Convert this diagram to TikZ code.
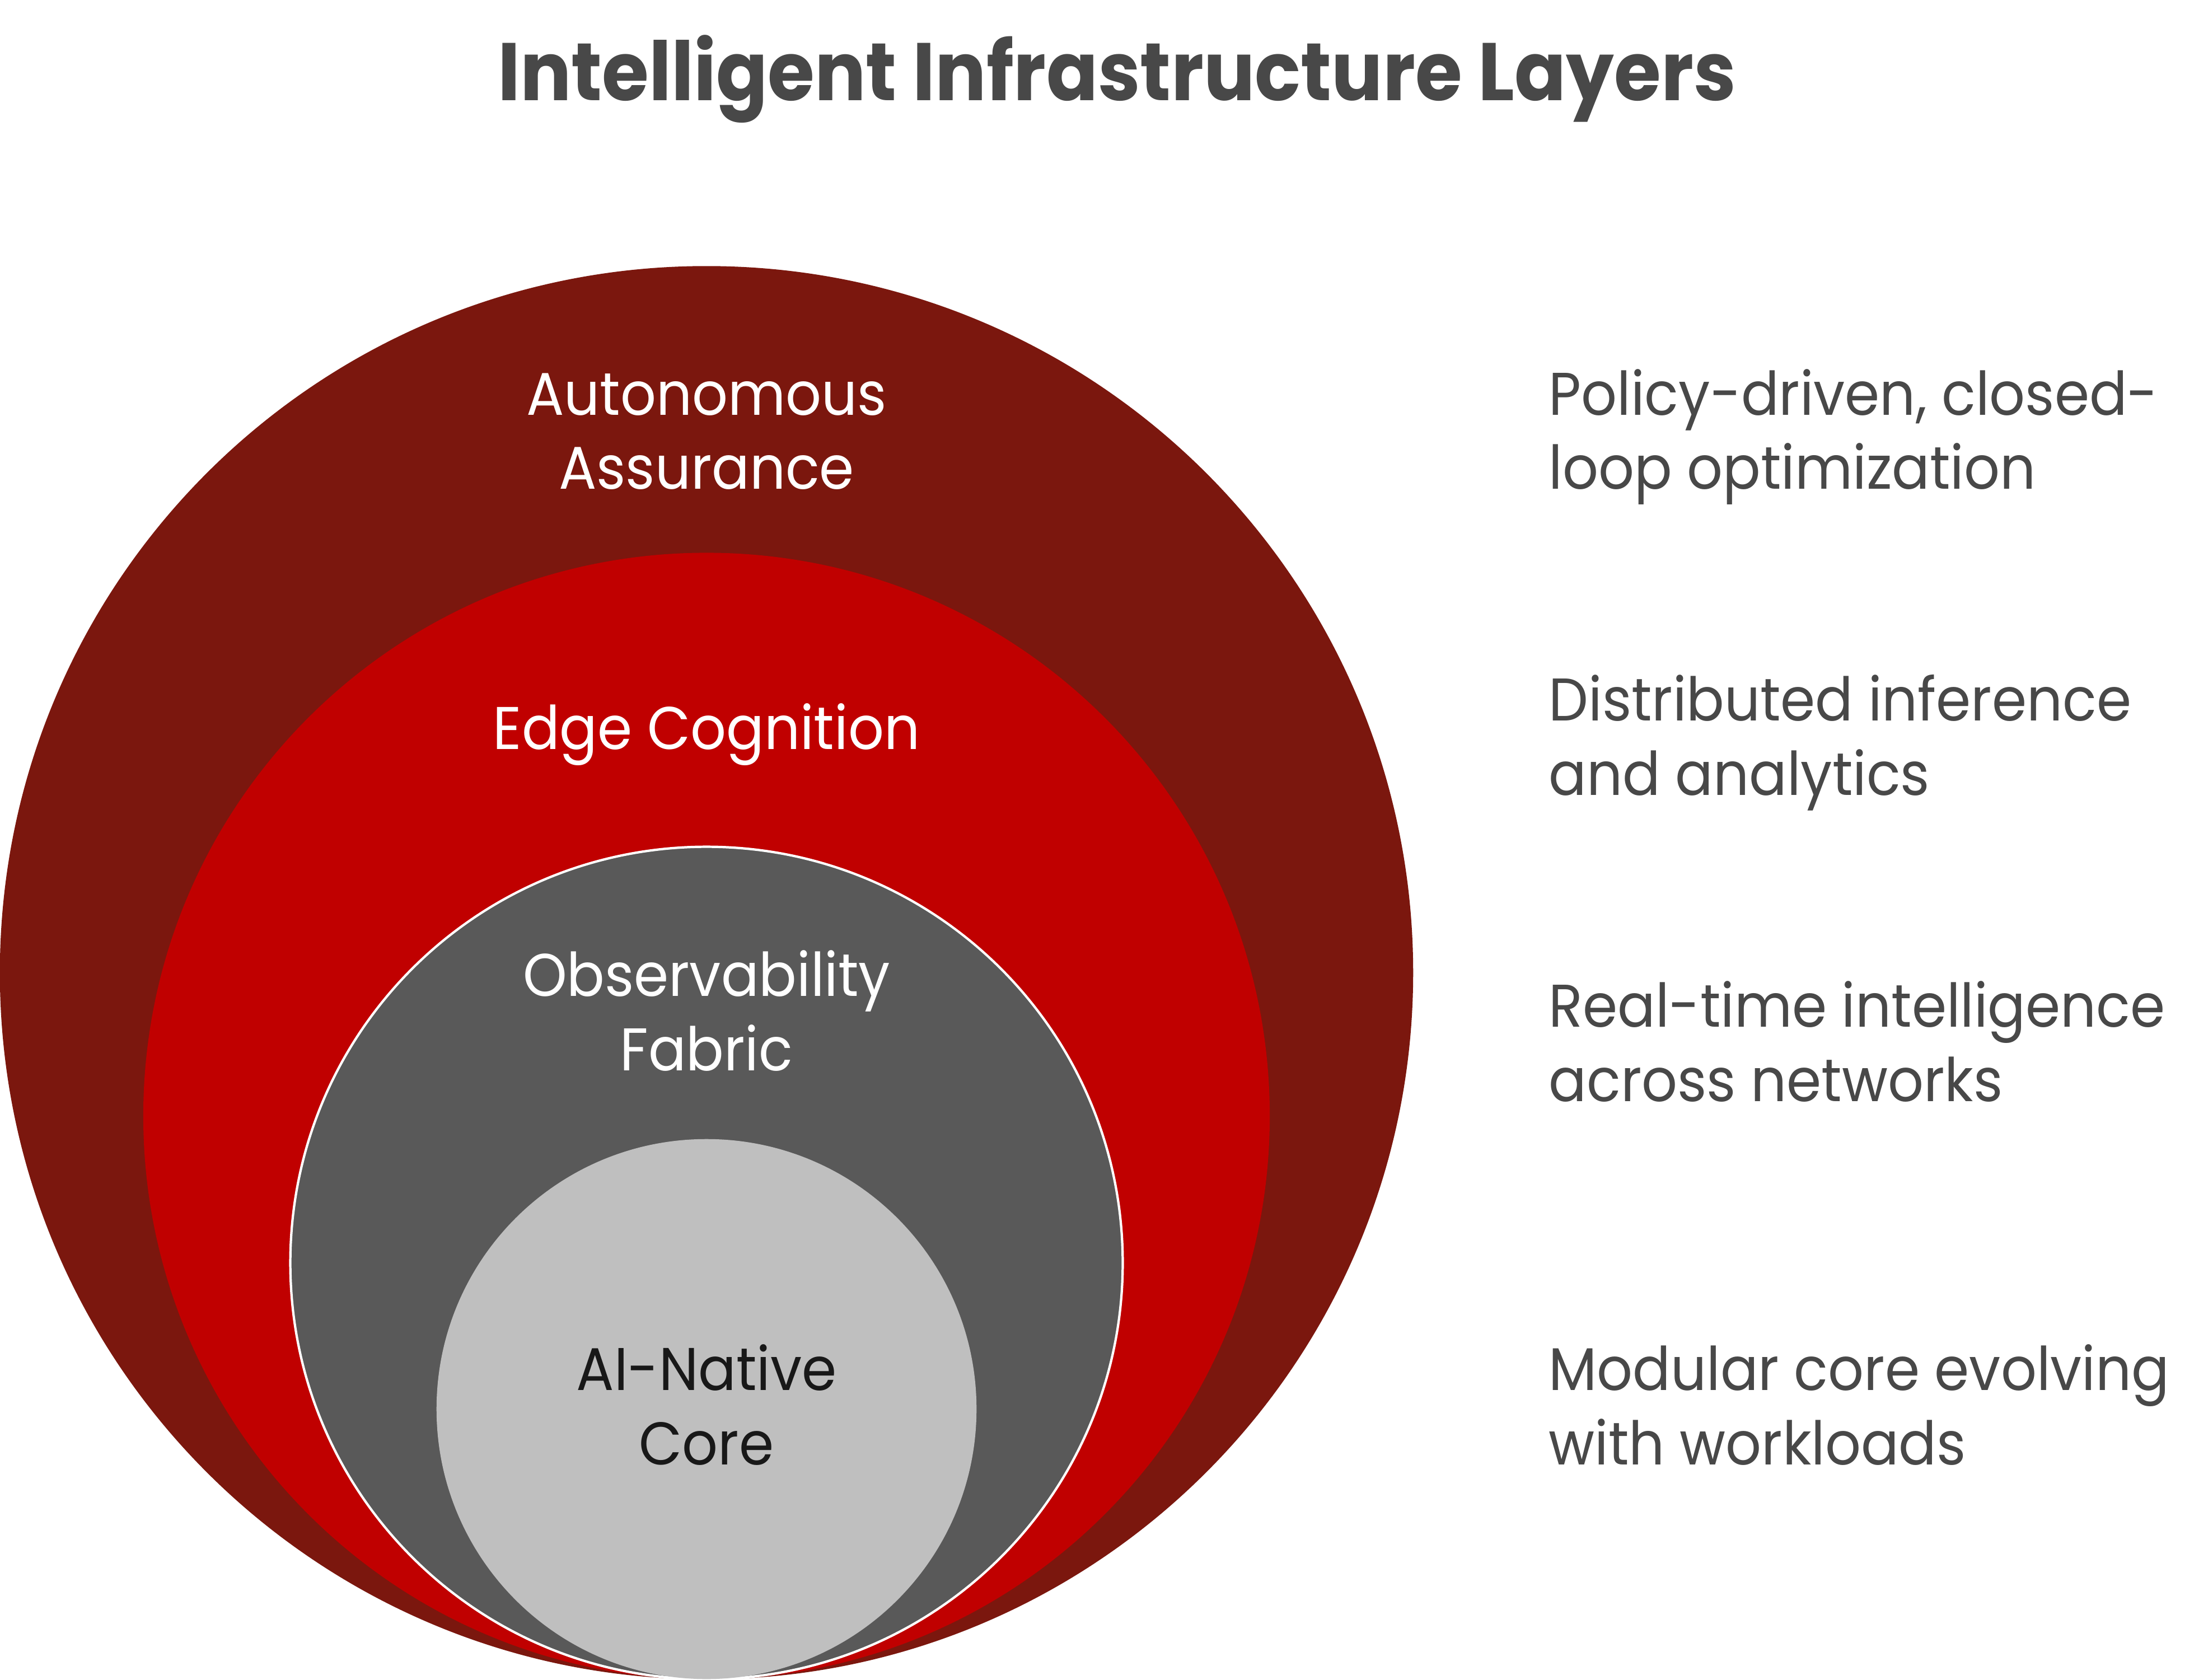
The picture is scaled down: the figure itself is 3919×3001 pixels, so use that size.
\documentclass[tikz,border=0pt]{standalone}
\usepackage{fontspec}
\setmainfont{Poppins}[FakeStretch=0.93]
\definecolor{outerred}{RGB}{123,23,14}
\definecolor{midred}{RGB}{192,0,0}
\definecolor{darkgrey}{RGB}{89,89,89}
\definecolor{lightgrey}{RGB}{191,191,191}
\definecolor{textgrey}{RGB}{72,72,72}
\definecolor{coretext}{RGB}{24,24,24}
\begin{document}
\begin{tikzpicture}[x=0.01cm,y=-0.01cm,
  layer/.style={circle, inner sep=0pt, outer sep=0pt},
  lbl/.style={font=\fontsize{30.6}{37.6}\selectfont, align=center, inner sep=0pt, anchor=base},
  desc/.style={font=\fontsize{30.6}{37.6}\selectfont, text=textgrey, align=left, inner sep=0pt, anchor=base west},
  ttl/.style={font=\fontsize{41.5}{48}\selectfont\bfseries, text=textgrey, inner sep=0pt, anchor=base}]
\useasboundingbox[fill=white] (0,0) rectangle (3919,3001);
\node[ttl] (title) at (1995,180) {Intelligent Infrastructure Layers};
\node[layer, fill=outerred, minimum size=25.23cm] (l1) at (1262,1737.5) {};
\node[layer, fill=midred, minimum size=20.11cm] (l2) at (1262,1993.5) {};
\node[layer, fill=darkgrey, draw=white, line width=1.2pt, minimum size=14.86cm] (l3) at (1262,2256) {};
\node[layer, fill=lightgrey, minimum size=9.64cm] (l4) at (1262,2517) {};
\node[lbl, text=white] (t1) at (1262,874) {Autonomous\\Assurance};
\node[lbl, text=white] (t2) at (1262,1338) {Edge Cognition};
\node[lbl, text=white] (t3) at (1262,1912) {Observability\\Fabric};
\node[lbl, text=coretext] (t4) at (1262,2616) {AI-Native\\Core};
\node[desc] (d1) at (2766,874) {Policy-driven, closed-\\loop optimization};
\node[desc] (d2) at (2766,1420) {Distributed inference\\and analytics};
\node[desc] (d3) at (2766,1967) {Real-time intelligence\\across networks};
\node[desc] (d4) at (2766,2616) {Modular core evolving\\with workloads};
\end{tikzpicture}
\end{document}
